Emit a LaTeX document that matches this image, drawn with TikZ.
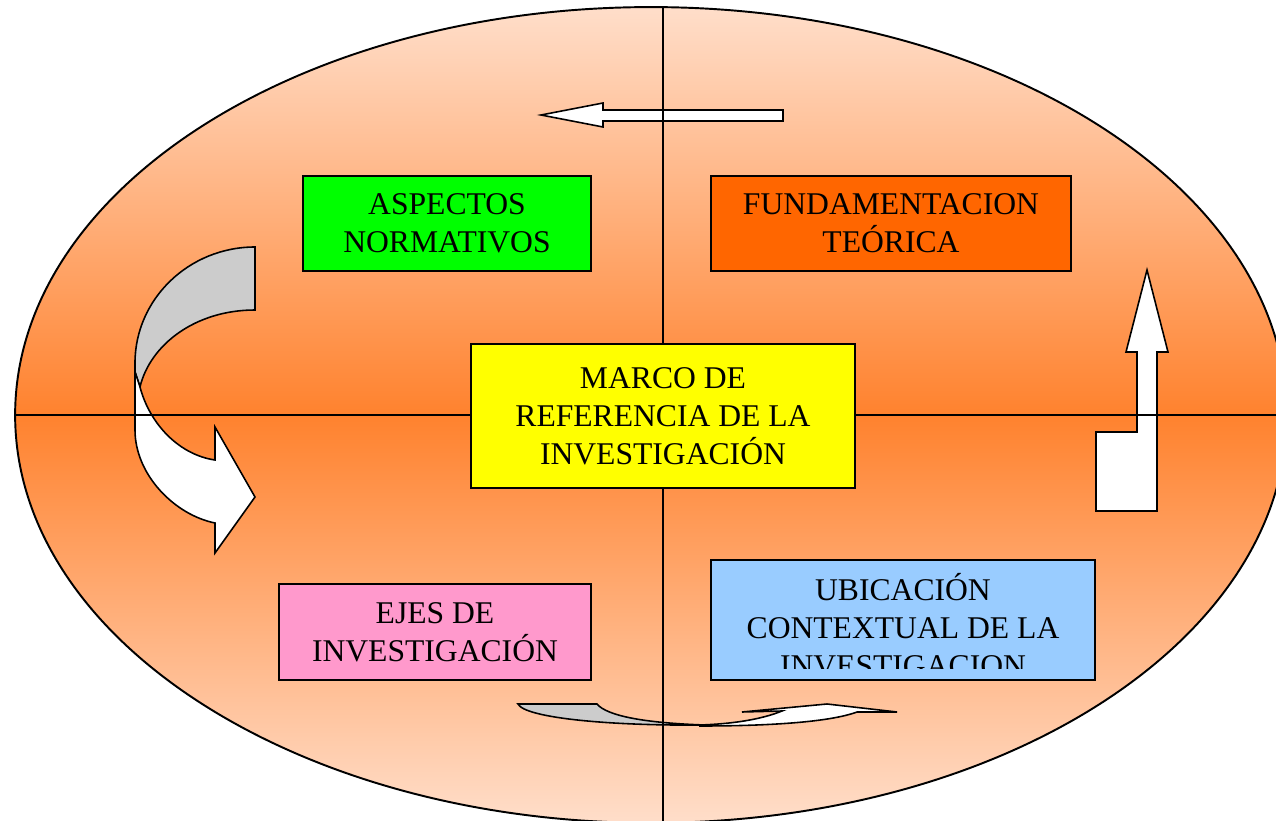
\documentclass[tikz,border=0pt]{standalone}
\usepackage{fontspec}
\setmainfont{Liberation Serif}
\usetikzlibrary{shapes.geometric, positioning}

\definecolor{melocoton}{RGB}{255,222,202}
\definecolor{naranjafondo}{RGB}{255,130,46}
\definecolor{verde}{RGB}{0,255,0}
\definecolor{naranja}{RGB}{255,102,0}
\definecolor{amarillo}{RGB}{255,255,0}
\definecolor{rosa}{RGB}{255,153,204}
\definecolor{celeste}{RGB}{153,204,255}
\definecolor{gris}{RGB}{204,204,204}

\begin{document}
\begin{tikzpicture}[
    x=0.02cm, y=-0.02cm,
    fondo/.style={ellipse, draw, line width=1.1pt, outer sep=0pt, top color=melocoton, bottom color=melocoton, middle color=naranjafondo},
    caja/.style={draw, line width=0.9pt, align=center, inner sep=0pt, font=\fontsize{18}{21.6}\selectfont},
    texto/.style={align=center, inner sep=0pt, font=\fontsize{18}{21.6}\selectfont},
    flecha/.style={draw, line width=0.9pt, fill=white, line join=miter},
    reverso/.style={flecha, fill=gris}
]

    \useasboundingbox (0,0) rectangle (1276,821);
    \clip (0,0) rectangle (1276,821);

    % Background ellipse
    \node[fondo, minimum width=25.44cm, minimum height=16.32cm] (elipse) at (651,415) {};
    \coordinate (centro) at (663,416);

    % Curved arrow on the left
    \path[reverso] (255,247) -- (255,310) .. controls (195,310) and (150,345) .. (140,387) -- (135,372) -- (135,363) .. controls (135,299) and (189,247) .. (255,247) -- cycle;
    \path[flecha] (135,372) -- (135,430) .. controls (135,475) and (175,515) .. (215,523) -- (215,553) -- (255,497) -- (215,427) -- (215,460) .. controls (180,455) and (150,425) .. (140,387) -- cycle;

    % Arrow at the top
    \path[flecha] (783,110) -- (603,110) -- (603,103) -- (541,115) -- (603,127) -- (603,121) -- (783,121) -- cycle;

    % Arrow on the right
    \path[flecha] (1157,511) -- (1157,352) -- (1168,352) -- (1147,270) -- (1126,352) -- (1137,352) -- (1137,432) -- (1096,432) -- (1096,511) -- cycle;

    % Curved arrow at the bottom
    \path[reverso] (518,704) -- (597,704) .. controls (607,716) and (645,723) .. (705,725) .. controls (610,726) and (525,718) .. (518,704) -- cycle;
    \path[flecha] (700,726) .. controls (770,726) and (830,722) .. (857,712) -- (897,712) -- (827,704) -- (742,712) -- (782,711) .. controls (760,720) and (730,724) .. (700,725) -- cycle;

    % Axes
    \draw[line width=0.9pt] (elipse.west) -- (elipse.east);
    \draw[line width=0.9pt] (elipse.north -| centro) -- (elipse.south -| centro);

    % Boxes
    \node[caja, fill=amarillo, minimum width=7.68cm, minimum height=2.88cm] (marco) at (centro) {MARCO DE\\REFERENCIA DE LA\\INVESTIGACIÓN};
    \node[caja, fill=verde, minimum width=5.76cm, minimum height=1.9cm] (aspectos) at (447,223.5) {ASPECTOS\\NORMATIVOS};
    \node[caja, fill=naranja, minimum width=7.2cm, minimum height=1.9cm] (fundamentacion) at (891,223.5) {FUNDAMENTACION\\TEÓRICA};
    \node[caja, fill=rosa, minimum width=6.24cm, minimum height=1.92cm] (ejes) at (435,632) {EJES DE\\INVESTIGACIÓN};
    \node[caja, fill=celeste, minimum width=7.68cm, minimum height=2.4cm] (ubicacion) at (903,620) {};
    \begin{scope}
        \clip (ubicacion.north west) rectangle ([yshift=0.24cm]ubicacion.south east);
        \node[texto] (ubicaciontxt) at (903,625) {UBICACIÓN\\CONTEXTUAL DE LA\\INVESTIGACION};
    \end{scope}

\end{tikzpicture}
\end{document}
